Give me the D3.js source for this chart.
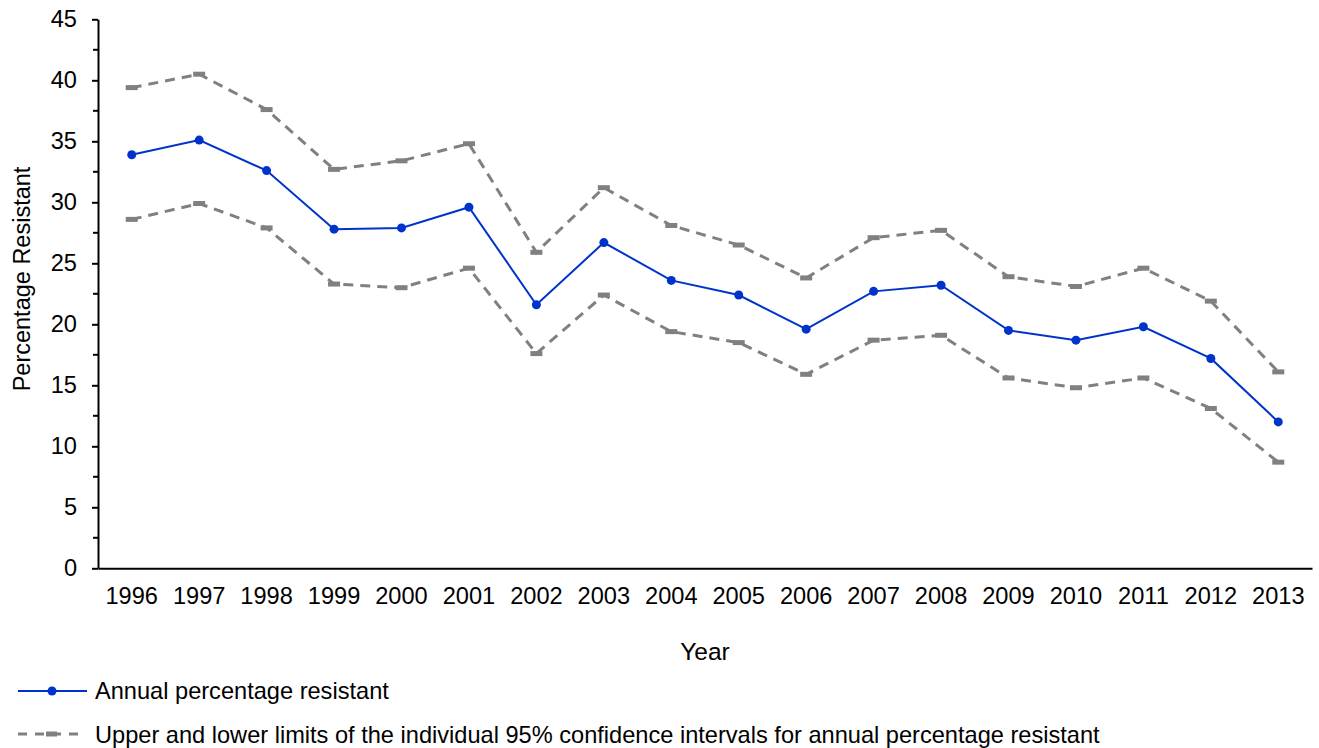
<!DOCTYPE html>
<html><head><meta charset="utf-8">
<script src="https://cdn.jsdelivr.net/npm/d3@7"></script>
<style>body{margin:0;background:#fff}svg{display:block;font-family:"Liberation Sans",Arial,sans-serif}</style>
</head><body><svg id="c" width="1319" height="748"></svg>
<script>
const years = ["1996","1997","1998","1999","2000","2001","2002","2003","2004","2005","2006","2007","2008","2009","2010","2011","2012","2013"];
const annual = [33.9,35.1,32.6,27.8,27.9,29.6,21.6,26.7,23.6,22.4,19.6,22.7,23.2,19.5,18.7,19.8,17.2,12.0];
const upper = [39.4,40.5,37.6,32.7,33.4,34.8,25.9,31.2,28.1,26.5,23.8,27.1,27.7,23.9,23.1,24.6,21.9,16.1];
const lower = [28.6,29.9,27.9,23.3,23.0,24.6,17.6,22.4,19.4,18.5,15.9,18.7,19.1,15.6,14.8,15.6,13.1,8.7];
const yTicks = [0,5,10,15,20,25,30,35,40,45];
const legendLabels = ["Annual percentage resistant","Upper and lower limits of the individual 95% confidence intervals for annual percentage resistant"];

const FS = 23.6;
const svg = d3.select("#c");
const L = 98, R = 1312, T = 19.3, B = 568.3;
const x = d3.scaleBand().domain(years).range([L, R]);
const y = d3.scaleLinear().domain([0,45]).range([B, T]);
const cx = d => x(d) + x.bandwidth()/2;
const blue = "#0033cc", gray = "#808080";

// y axis
const ya = svg.append("g").attr("transform",`translate(${L},0)`)
  .call(d3.axisLeft(y).tickValues(yTicks).tickSize(6).tickPadding(15).tickSizeOuter(0));
ya.select(".domain").attr("stroke","#000").attr("stroke-width",2);
ya.selectAll(".tick line").attr("stroke","#000").attr("stroke-width",2);
ya.selectAll("text").attr("font-size",FS).attr("fill","#000").attr("font-family","Liberation Sans, Arial, sans-serif");
// minor ticks
ya.selectAll(".minor").data(d3.range(2.5,45,5)).enter().append("line")
  .attr("x1",-5).attr("x2",0).attr("y1",d=>y(d)).attr("y2",d=>y(d)).attr("stroke","#000").attr("stroke-width",2);

// x axis
const xa = svg.append("g").attr("transform",`translate(0,${B})`)
  .call(d3.axisBottom(x).tickSize(0).tickPadding(19).tickSizeOuter(0));
xa.select(".domain").attr("stroke","#000").attr("stroke-width",2);
xa.selectAll("text").attr("font-size",FS).attr("fill","#000").attr("font-family","Liberation Sans, Arial, sans-serif");

// axis titles
svg.append("text").attr("x",705).attr("y",659.5).attr("text-anchor","middle").attr("font-size",24.5).text("Year");
svg.append("text").attr("transform",`translate(30,279) rotate(-90)`).attr("text-anchor","middle").attr("font-size",23.5).text("Percentage Resistant");

const line = d3.line().x((d,i)=>cx(years[i])).y(d=>y(d));

function dashedSeries(vals){
  svg.append("path").datum(vals).attr("d",line).attr("fill","none").attr("stroke",gray)
    .attr("stroke-width",3).attr("stroke-dasharray","10,7");
  svg.append("g").selectAll("rect").data(vals).enter().append("rect")
    .attr("x",(d,i)=>cx(years[i])-6).attr("y",d=>y(d)-2.5).attr("width",12).attr("height",5).attr("fill",gray);
}
dashedSeries(upper);
dashedSeries(lower);

svg.append("path").datum(annual).attr("d",line).attr("fill","none").attr("stroke",blue).attr("stroke-width",2);
svg.append("g").selectAll("circle").data(annual).enter().append("circle")
  .attr("cx",(d,i)=>cx(years[i])).attr("cy",d=>y(d)).attr("r",4.5).attr("fill",blue);

// legend
const lg = svg.append("g");
lg.append("line").attr("x1",18).attr("x2",87).attr("y1",691).attr("y2",691).attr("stroke",blue).attr("stroke-width",2);
lg.append("circle").attr("cx",52).attr("cy",691).attr("r",4.5).attr("fill",blue);
lg.append("text").attr("x",95).attr("y",699).attr("font-size",FS).text(legendLabels[0]);
lg.append("line").attr("x1",18).attr("x2",82).attr("y1",734).attr("y2",734).attr("stroke",gray).attr("stroke-width",3).attr("stroke-dasharray","9,8");
lg.append("rect").attr("x",46).attr("y",731.5).attr("width",11).attr("height",5).attr("fill",gray);
lg.append("text").attr("x",95).attr("y",743).attr("font-size",FS).text(legendLabels[1]);
</script></body></html>
